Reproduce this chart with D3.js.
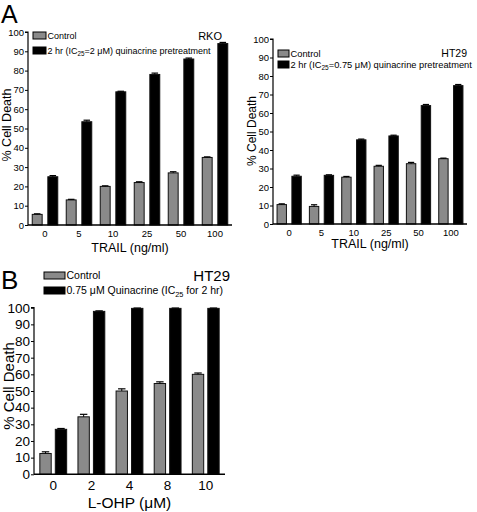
<!DOCTYPE html>
<html><head><meta charset="utf-8">
<script src="https://cdn.jsdelivr.net/npm/d3@7"></script>
<style>body{margin:0;background:#fff}svg{display:block;font-family:"Liberation Sans",Arial,sans-serif}</style>
</head><body>
<svg id="c" width="477" height="512"></svg>
<script>
// Panel A left (RKO)
const rkoCats = ["0","5","10","25","50","100"];
const rkoControl = [5.5,13,20,22,27,35];
const rkoControlErr = [0.3,0.3,0.3,0.4,0.6,0.3];
const rkoQuin = [25,53.5,69,78,86,94];
const rkoQuinErr = [0.6,0.8,0.3,0.7,0.5,0.6];
// Panel A right (HT29)
const htCats = ["0","5","10","25","50","100"];
const htControl = [10.5,9.5,25.3,31.2,32.6,35.3];
const htControlErr = [0.4,0.9,0.4,0.5,0.7,0.3];
const htQuin = [25.8,26.3,45.5,47.6,64,74.8];
const htQuinErr = [0.6,0.3,0.4,0.4,0.6,0.6];
// Panel B (HT29, L-OHP)
const bCats = ["0","2","4","8","10"];
const bControl = [12.5,34.5,50,54.5,60];
const bControlErr = [1.0,1.5,1.3,1.0,0.8];
const bQuin = [27,97.8,99.6,99.6,99.6];
const bQuinErr = [0.5,0.3,0.2,0.2,0.2];
const yTicks = [0,10,20,30,40,50,60,70,80,90,100];

const svg = d3.select("#c");

function panel(o){
  const g = svg.append("g");
  const y = d3.scaleLinear().domain([0,100]).range([o.y0,o.y1]);
  const x = d3.scaleBand().domain(o.cats).range([o.x0,o.x1]).paddingInner(o.padIn).paddingOuter(o.padOut);
  const x1 = d3.scaleBand().domain(["c","q"]).range([0,x.bandwidth()]).paddingInner(o.gap);
  const series = [
    {k:"c", v:o.control, e:o.cErr, fill:"#8a8a8a"},
    {k:"q", v:o.quin, e:o.qErr, fill:"#000"}
  ];
  series.forEach(s=>{
    o.cats.forEach((c,i)=>{
      const bx = x(c)+x1(s.k), bw = x1.bandwidth();
      g.append("rect").attr("x",bx+0.5).attr("y",y(s.v[i])).attr("width",bw-1).attr("height",y(0)-y(s.v[i]))
        .attr("fill",s.fill).attr("stroke","#111").attr("stroke-width",1);
      const cx = bx+bw/2, top=y(s.v[i]+s.e[i]);
      g.append("line").attr("x1",cx).attr("x2",cx).attr("y1",y(s.v[i])).attr("y2",top).attr("stroke","#000");
      g.append("line").attr("x1",cx-bw*0.3).attr("x2",cx+bw*0.3).attr("y1",top).attr("y2",top).attr("stroke","#000").attr("stroke-width",1.2);
    });
  });
  const ya = d3.axisLeft(y).tickValues(yTicks).tickSize(o.tick).tickPadding(1);
  const yg = g.append("g").attr("transform",`translate(${o.x0},0)`).call(ya);
  yg.select(".domain").attr("stroke","#000").attr("stroke-width",1.2).attr("d",`M-${o.tick},${o.y1}H0V${o.y0}`);
  yg.selectAll("text").attr("font-size",o.tickFs).attr("fill","#000").attr("font-family","Liberation Sans, Arial, sans-serif");
  yg.selectAll("line").attr("stroke","#000");
  const xa = d3.axisBottom(x).tickSize(0).tickPadding(o.xPad);
  const xg = g.append("g").attr("transform",`translate(0,${o.y0})`).call(xa);
  xg.select(".domain").attr("stroke","#000").attr("stroke-width",1.4).attr("d",`M${o.x0},0H${o.xEnd}`);
  xg.selectAll("text").attr("font-size",o.tickFs).attr("fill","#000").attr("font-family","Liberation Sans, Arial, sans-serif");
  g.append("text").attr("x",(o.x0+o.xEnd)/2).attr("y",o.xLabY).attr("text-anchor","middle").attr("font-size",o.labFs).text(o.xLab);
  g.append("text").attr("transform",`translate(${o.yLabX},${o.yLabC}) rotate(-90)`).attr("text-anchor","middle").attr("font-size",o.yLabFs).text("% Cell Death");
  return g;
}

panel({cats:rkoCats, control:rkoControl, cErr:rkoControlErr, quin:rkoQuin, qErr:rkoQuinErr,
  x0:28, x1:232, xEnd:232, y0:225, y1:32, padIn:0.22, padOut:0.11, gap:0.3, tick:3, tickFs:9.5, xPad:5,
  labFs:12.5, yLabFs:12.5, xLab:"TRAIL (ng/ml)", xLabY:252, yLabX:11, yLabC:125});
panel({cats:htCats, control:htControl, cErr:htControlErr, quin:htQuin, qErr:htQuinErr,
  x0:273, x1:467, xEnd:467, y0:224, y1:39, padIn:0.22, padOut:0.11, gap:0.3, tick:3, tickFs:9.5, xPad:5,
  labFs:12.5, yLabFs:12, xLab:"TRAIL (ng/ml)", xLabY:248, yLabX:256, yLabC:131});
panel({cats:bCats, control:bControl, cErr:bControlErr, quin:bQuin, qErr:bQuinErr,
  x0:34, x1:225, xEnd:225, y0:474.3, y1:307.7, padIn:0.27, padOut:0.14, gap:0.2, tick:3, tickFs:13.5, xPad:6,
  labFs:15.5, yLabFs:15, xLab:"L-OHP (\u03bcM)", xLabY:508, yLabX:14, yLabC:386});

svg.append("text").attr("x",1).attr("y",23).attr("font-size",25).text("A");
svg.append("text").attr("x",1).attr("y",289).attr("font-size",26).text("B");

function legend(x,y,w,h,dy,fs,items){
  items.forEach((it,i)=>{
    svg.append("rect").attr("x",x).attr("y",y+i*dy).attr("width",w).attr("height",h).attr("fill",it.fill).attr("stroke","#000").attr("stroke-width",1);
    const t = svg.append("text").attr("x",x+w+1.5).attr("y",y+i*dy+h/2).attr("dy","0.36em").attr("font-size",fs);
    it.parts.forEach(p=>{
      const ts = t.append("tspan").text(p.t);
      if(p.sub){ ts.attr("font-size",fs*0.7).attr("dy",fs*0.25); }
      else if(p.after){ ts.attr("dy",-fs*0.25); }
    });
  });
}
legend(33,32,13,7,15,9,[
  {fill:"#8a8a8a",parts:[{t:"Control"}]},
  {fill:"#000",parts:[{t:"2 hr (IC"},{t:"25",sub:true},{t:"=2 \u03bcM) quinacrine pretreatment",after:true}]}
]);
svg.append("text").attr("x",222).attr("y",40).attr("text-anchor","end").attr("font-size",11).text("RKO");

legend(278,50,11,7,11,9.3,[
  {fill:"#8a8a8a",parts:[{t:"Control"}]},
  {fill:"#000",parts:[{t:"2 hr (IC"},{t:"25",sub:true},{t:"=0.75 \u03bcM) quinacrine pretreatment",after:true}]}
]);
svg.append("text").attr("x",467).attr("y",57).attr("text-anchor","end").attr("font-size",10.5).text("HT29");

legend(44,272,21,7,15,10.5,[
  {fill:"#8a8a8a",parts:[{t:"Control"}]},
  {fill:"#000",parts:[{t:"0.75 \u03bcM Quinacrine (IC"},{t:"25",sub:true},{t:" for 2 hr)",after:true}]}
]);
svg.append("text").attr("x",230).attr("y",281).attr("text-anchor","end").attr("font-size",15).text("HT29");
</script>
</body></html>
